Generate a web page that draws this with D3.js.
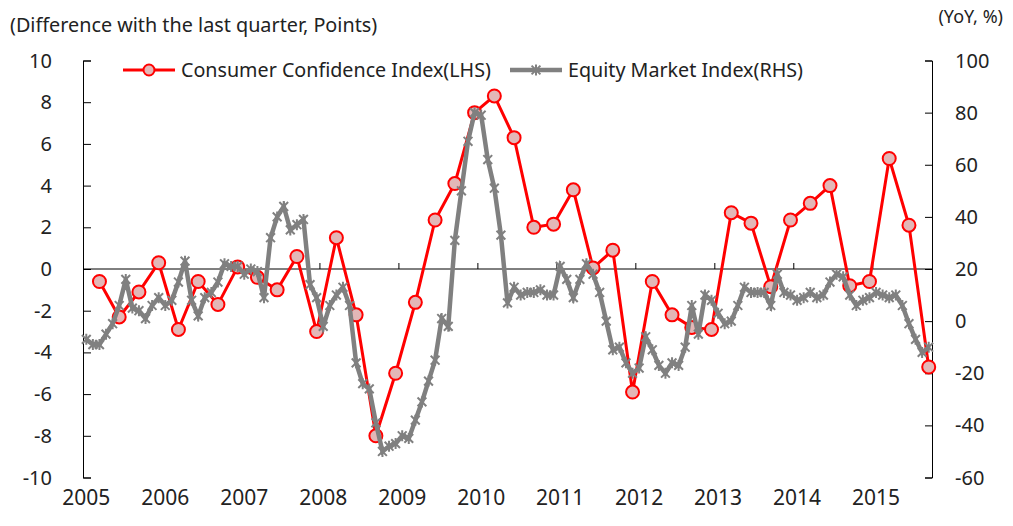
<!DOCTYPE html>
<html>
<head>
<meta charset="utf-8">
<script src="https://cdn.jsdelivr.net/npm/d3@7"></script>
<style>
  body { margin: 0; background: #fff; }
  text { font-family: "Noto Sans", sans-serif; fill: #222; }
</style>
</head>
<body>
<div id="chartArea"></div>
<script>
var years = [2005, 2006, 2007, 2008, 2009, 2010, 2011, 2012, 2013, 2014, 2015];

// quarterly, 2005Q1 .. 2015Q3 (left axis, points)
var cci = [-0.6, -2.3, -1.1, 0.3, -2.9, -0.6, -1.7, 0.1,
  -0.4, -1.0, 0.6, -3.0, 1.5, -2.2, -8.0, -5.0,
  -1.6, 2.35, 4.1, 7.5, 8.3, 6.3, 2.0, 2.15,
  3.8, 0.05, 0.9, -5.9, -0.6, -2.2, -2.8, -2.9,
  2.7, 2.2, -0.85, 2.35, 3.15, 4.0, -0.8, -0.6,
  5.3, 2.1, -4.7];

// monthly, 2005-01 .. 2015-09 (right axis, YoY %)
var equity = [-7, -9, -9, -5, -1, 6, 16, 5, 4, 1, 6, 9,
  6, 8, 15, 23, 8, 2, 9, 11, 15, 22, 21, 21,
  18, 20, 19, 9, 32, 40, 44, 35, 37, 39, 14, 9,
  -2, 6, 10, 13, 6, -16, -24, -26, -39, -50, -48, -47,
  -44, -45, -38, -31, -23, -15, 1, -2, 31, 50, 69, 80,
  79, 62, 51, 33, 7, 13, 10, 11, 11, 12, 10, 10,
  21, 16, 9, 16, 22, 18, 11, 0, -11, -10, -16, -20,
  -18, -6, -11, -17, -20, -16, -17, -10, 6, -5, 10, 8,
  3, -1, 0, 6, 13, 11, 11, 11, 6, 18, 11, 10,
  8, 9, 11, 9, 10, 15, 18, 17, 10, 6, 8, 9,
  11, 10, 9, 10, 6, -1, -7, -12, -10];

var leftTicks = [-10, -8, -6, -4, -2, 0, 2, 4, 6, 8, 10];
var rightTicks = [-60, -40, -20, 0, 20, 40, 60, 80, 100];

var w = 1013, h = 526;
var x0 = 83, x1 = 932, yTop = 60.5, yBot = 477.5;

var months = [];
years.forEach(function (yr) {
  for (var m = 1; m <= 12; m++) months.push(yr + '-' + m);
});
months = months.slice(0, equity.length);

var svg = d3.select('#chartArea').append('svg')
  .attr('width', w)
  .attr('height', h);

var xScale = d3.scaleBand()
  .domain(months)
  .range([x0, x1])
  .padding(0);

var xc = function (i) { return xScale(months[i]) + xScale.bandwidth() / 2; };

var yL = d3.scaleLinear().domain([-10, 10]).range([yBot, yTop]);
var yR = d3.scaleLinear().domain([-60, 100]).range([yBot, yTop]);

// axes
var leftAxis = d3.axisRight(yL).tickValues(leftTicks).tickSize(8).tickFormat('');
svg.append('g').attr('transform', 'translate(' + x0 + ',0)').call(leftAxis)
  .call(function (g) { g.selectAll('path,line').attr('stroke', '#000'); });

var rightAxis = d3.axisLeft(yR).tickValues(rightTicks).tickSize(7).tickFormat('');
svg.append('g').attr('transform', 'translate(' + x1 + ',0)').call(rightAxis)
  .call(function (g) { g.selectAll('path,line').attr('stroke', '#000'); });

svg.selectAll('.ltick').data(leftTicks).enter().append('text')
  .attr('x', 52).attr('y', function (d) { return yL(d) + 7; })
  .attr('text-anchor', 'end').style('font-size', '20px')
  .text(function (d) { return d; });

svg.selectAll('.rtick').data(rightTicks).enter().append('text')
  .attr('x', 955).attr('y', function (d) { return yR(d) + 7; })
  .attr('text-anchor', 'start').style('font-size', '20px')
  .text(function (d) { return d; });

// zero line with year ticks
svg.append('line').attr('x1', x0).attr('x2', x1)
  .attr('y1', yL(0)).attr('y2', yL(0)).attr('stroke', '#000').attr('stroke-width', 1);

svg.selectAll('.ytick').data(years.slice(1)).enter().append('line')
  .attr('x1', function (d) { return xScale(d + '-1'); })
  .attr('x2', function (d) { return xScale(d + '-1'); })
  .attr('y1', yL(0)).attr('y2', yL(0) - 6)
  .attr('stroke', '#000');

svg.selectAll('.ylabel').data(years).enter().append('text')
  .attr('x', function (d) { return xScale(d + '-1') + xScale.bandwidth() / 2; })
  .attr('y', 505).attr('text-anchor', 'middle').style('font-size', '21px')
  .text(function (d) { return d; });

// titles
svg.append('text').attr('x', 10).attr('y', 32).style('font-size', '19.8px')
  .text('(Difference with the last quarter, Points)');
svg.append('text').attr('x', 1003).attr('y', 23).attr('text-anchor', 'end').style('font-size', '18px')
  .text('(YoY, %)');

// CCI series
var cciPts = cci.map(function (v, k) { return { i: 3 * k + 2, v: v }; });
var lineL = d3.line().x(function (d) { return xc(d.i); }).y(function (d) { return yL(d.v); });
svg.append('path').datum(cciPts).attr('d', lineL)
  .attr('fill', 'none').attr('stroke', '#ff0000').attr('stroke-width', 3);
svg.selectAll('.cc').data(cciPts).enter().append('circle')
  .attr('cx', function (d) { return xc(d.i); })
  .attr('cy', function (d) { return yL(d.v); })
  .attr('r', 6.5).attr('fill', '#e3b7b7').attr('stroke', '#ff0000').attr('stroke-width', 2);

// Equity series
var eqPts = equity.map(function (v, i) { return { i: i, v: v }; });
var lineR = d3.line().x(function (d) { return xc(d.i); }).y(function (d) { return yR(d.v); });
svg.append('path').datum(eqPts).attr('d', lineR)
  .attr('fill', 'none').attr('stroke', '#808080').attr('stroke-width', 4.5);

var star = function (s) {
  var a = s * 0.8;
  return 'M0,' + (-s) + 'V' + s + 'M' + (-a) + ',' + (-a) + 'L' + a + ',' + a + 'M' + (-a) + ',' + a + 'L' + a + ',' + (-a);
};
svg.selectAll('.eq').data(eqPts).enter().append('path')
  .attr('transform', function (d) { return 'translate(' + xc(d.i) + ',' + yR(d.v) + ')'; })
  .attr('d', star(5.5)).attr('stroke', '#808080').attr('stroke-width', 2).attr('fill', 'none');

// legend
var lg = svg.append('g');
lg.append('line').attr('x1', 123).attr('x2', 175).attr('y1', 70).attr('y2', 70)
  .attr('stroke', '#ff0000').attr('stroke-width', 3);
lg.append('circle').attr('cx', 149).attr('cy', 70).attr('r', 5.5)
  .attr('fill', '#e3b7b7').attr('stroke', '#ff0000').attr('stroke-width', 2);
lg.append('text').attr('x', 181).attr('y', 77).style('font-size', '19.7px')
  .text('Consumer Confidence Index(LHS)');
lg.append('line').attr('x1', 510).attr('x2', 562).attr('y1', 70).attr('y2', 70)
  .attr('stroke', '#808080').attr('stroke-width', 4.5);
lg.append('path').attr('transform', 'translate(536,70)').attr('d', star(5.5))
  .attr('stroke', '#808080').attr('stroke-width', 2).attr('fill', 'none');
lg.append('text').attr('x', 568).attr('y', 77).style('font-size', '19.7px')
  .text('Equity Market Index(RHS)');
</script>
</body>
</html>
